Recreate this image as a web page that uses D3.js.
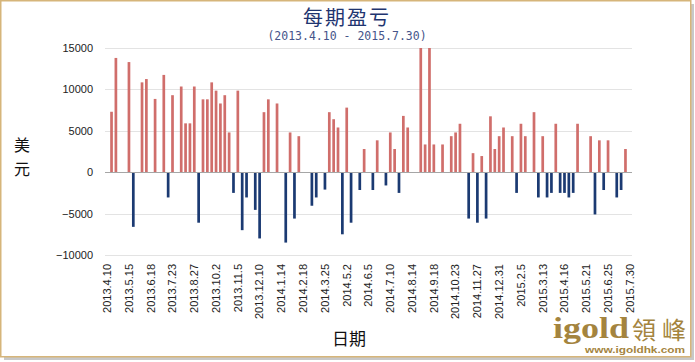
<!DOCTYPE html>
<html>
<head>
<meta charset="utf-8">
<script src="https://cdn.jsdelivr.net/npm/d3@7"></script>
<style>
  body { margin: 0; background: #fff; }
</style>
</head>
<body>
<script>
// weekly profit / loss, one value per week (0 = no trade)
var weeklyPnl = [
    0, 7300, 13800, 0, 0, 13300, -6600, 0, 10850, 11250,
    0, 8850, 0, 11750, -3050, 9300, 0, 10350, 5900, 5900,
    10350, -6100, 8800, 8800, 10850, 9850, 8300, 9300, 4800, -2500,
    9850, -7000, -3050, 0, -4550, -8000, 7250, 8800, 0, 8300,
    0, -8500, 4800, -5600, 4350, 0, 0, -4050, -3050, 0,
    -2100, 7250, 6400, 5400, -7500, 7800, -6100, 0, -2150, 2800,
    0, -2150, 3850, 0, -1600, 4800, 2800, -2500, 6800, 5400,
    0, 0, 15000, 3350, 15000, 3350, 0, 3350, 0, 4350,
    4800, 5850, 0, -5600, 2300, -6100, 1950, -5600, 6750, 2800,
    4350, 5400, 0, 4350, -2500, 5850, 4350, 0, 7250, -3050,
    4350, -3050, -2500, 5850, -2500, -2500, -3050, -2500, 5850, 0,
    0, 4350, -5100, 3850, -2150, 3850, 0, -3050, -2150, 2800,
    0
];

// one label every 5 weeks
var dateLabels = ['2013.4.10', '2013.5.15', '2013.6.18', '2013.7.23', '2013.8.27',
    '2013.10.2', '2013.11.5', '2013.12.10', '2014.1.14', '2014.2.18', '2014.3.25',
    '2014.5.2', '2014.6.5', '2014.7.10', '2014.8.14', '2014.9.18', '2014.10.23',
    '2014.11.27', '2014.12.31', '2015.2.5', '2015.3.13', '2015.4.16', '2015.5.21',
    '2015.6.25', '2015.7.30'];

var yTicks = [-10000, -5000, 0, 5000, 10000, 15000];

var W = 695, H = 362;
var plot = {left: 105, right: 632, top: 48, bottom: 255};

var svg = d3.select("body").append("svg")
    .attr("width", W)
    .attr("height", H);

// frame with a little shadow
svg.append('rect')
    .attr('x', 4).attr('y', 4)
    .attr('width', 690).attr('height', 356)
    .attr('fill', '#c8c8c8');
svg.append('rect')
    .attr('x', 0.75).attr('y', 0.75)
    .attr('width', 690).attr('height', 356)
    .attr('fill', '#fff')
    .attr('stroke', '#d6b57a')
    .attr('stroke-width', 1.5);

var weeks = d3.range(weeklyPnl.length);

var x = d3.scaleBand()
    .domain(weeks)
    .range([plot.left, plot.right]);

var y = d3.scaleLinear()
    .domain([-10000, 15000])
    .range([plot.bottom, plot.top]);

// grid lines
svg.append('g').selectAll('line')
    .data(yTicks.filter(function(d) { return d !== 0; }))
    .enter().append('line')
    .attr('x1', plot.left).attr('x2', plot.right)
    .attr('y1', function(d) { return Math.round(y(d)) + 0.5; })
    .attr('y2', function(d) { return Math.round(y(d)) + 0.5; })
    .attr('stroke', '#e3e3e3');

// y axis labels
var yAxis = svg.append('g')
    .attr('transform', 'translate(' + (plot.left - 12) + ',0)')
    .call(d3.axisLeft(y).tickValues(yTicks).tickFormat(d3.format('d'))
        .tickSize(0).tickPadding(0));
yAxis.select('.domain').remove();
yAxis.selectAll('text')
    .attr('font-family', 'Liberation Sans, Arial, sans-serif')
    .attr('font-size', 11)
    .attr('fill', '#222');

// bars (weeks with 0 get no bar)
var barW = 2.7;
svg.append('g').selectAll('rect')
    .data(weeks.filter(function(i) { return weeklyPnl[i] !== 0; }))
    .enter().append('rect')
    .attr('x', function(i) { return x(i) + x.bandwidth() / 2 - barW / 2; })
    .attr('y', function(i) { return y(Math.max(weeklyPnl[i], 0)); })
    .attr('width', barW)
    .attr('height', function(i) { return Math.abs(y(weeklyPnl[i]) - y(0)); })
    .attr('fill', function(i) { return weeklyPnl[i] > 0 ? '#d06e6b' : '#1b3a72'; });

// zero line
svg.append('line')
    .attr('x1', plot.left).attr('x2', plot.right)
    .attr('y1', Math.round(y(0)) + 0.5).attr('y2', Math.round(y(0)) + 0.5)
    .attr('stroke', '#a6a6a6');

// x axis labels, every 5th week
var xAxis = svg.append('g')
    .attr('transform', 'translate(0,' + (plot.bottom + 9) + ')')
    .call(d3.axisBottom(x)
        .tickValues(d3.range(0, weeklyPnl.length, 5))
        .tickFormat(function(d) { return dateLabels[d / 5]; })
        .tickSize(0).tickPadding(0));
xAxis.select('.domain').remove();
xAxis.selectAll('text')
    .attr('font-family', 'Liberation Sans, Arial, sans-serif')
    .attr('font-size', 11)
    .attr('fill', '#222')
    .attr('text-anchor', 'end')
    .attr('dy', '0.35em')
    .attr('y', 0)
    .attr('transform', 'rotate(-90)');

// titles
svg.append('text')
    .attr('x', 347).attr('y', 25)
    .attr('text-anchor', 'middle')
    .attr('font-family', 'Noto Sans CJK SC')
    .attr('font-size', 20)
    .attr('letter-spacing', 2)
    .attr('fill', '#1f3570')
    .text('每期盈亏');

svg.append('text')
    .attr('x', 347).attr('y', 40)
    .attr('text-anchor', 'middle')
    .attr('font-family', 'DejaVu Sans Mono, monospace')
    .attr('font-size', 11.5)
    .attr('fill', '#46548a')
    .text('(2013.4.10 - 2015.7.30)');

svg.append('text')
    .attr('x', 22).attr('y', 151)
    .attr('text-anchor', 'middle')
    .attr('font-family', 'Noto Sans CJK SC')
    .attr('font-size', 16)
    .attr('fill', '#111')
    .text('美');
svg.append('text')
    .attr('x', 22).attr('y', 175)
    .attr('text-anchor', 'middle')
    .attr('font-family', 'Noto Sans CJK SC')
    .attr('font-size', 16)
    .attr('fill', '#111')
    .text('元');

svg.append('text')
    .attr('x', 349).attr('y', 345)
    .attr('text-anchor', 'middle')
    .attr('font-family', 'Noto Sans CJK SC')
    .attr('font-size', 17)
    .attr('fill', '#111')
    .text('日期');

// logo
var gold = '#a4843e';
svg.append('text')
    .attr('x', 553).attr('y', 338)
    .attr('font-family', 'Liberation Serif, serif')
    .attr('font-weight', 'bold')
    .attr('font-size', 29)
    .attr('textLength', 76)
    .attr('lengthAdjust', 'spacingAndGlyphs')
    .attr('fill', gold)
    .text('igold');
svg.append('text')
    .attr('x', 632).attr('y', 339)
    .attr('font-family', 'Noto Sans CJK TC')
    .attr('font-size', 24)
    .attr('textLength', 54)
    .attr('fill', gold)
    .text('領峰');
svg.append('text')
    .attr('x', 585).attr('y', 353)
    .attr('font-family', 'Liberation Sans, Arial, sans-serif')
    .attr('font-weight', 'bold')
    .attr('font-size', 9.5)
    .attr('textLength', 100)
    .attr('lengthAdjust', 'spacingAndGlyphs')
    .attr('fill', gold)
    .text('www.igoldhk.com');
</script>
</body>
</html>
